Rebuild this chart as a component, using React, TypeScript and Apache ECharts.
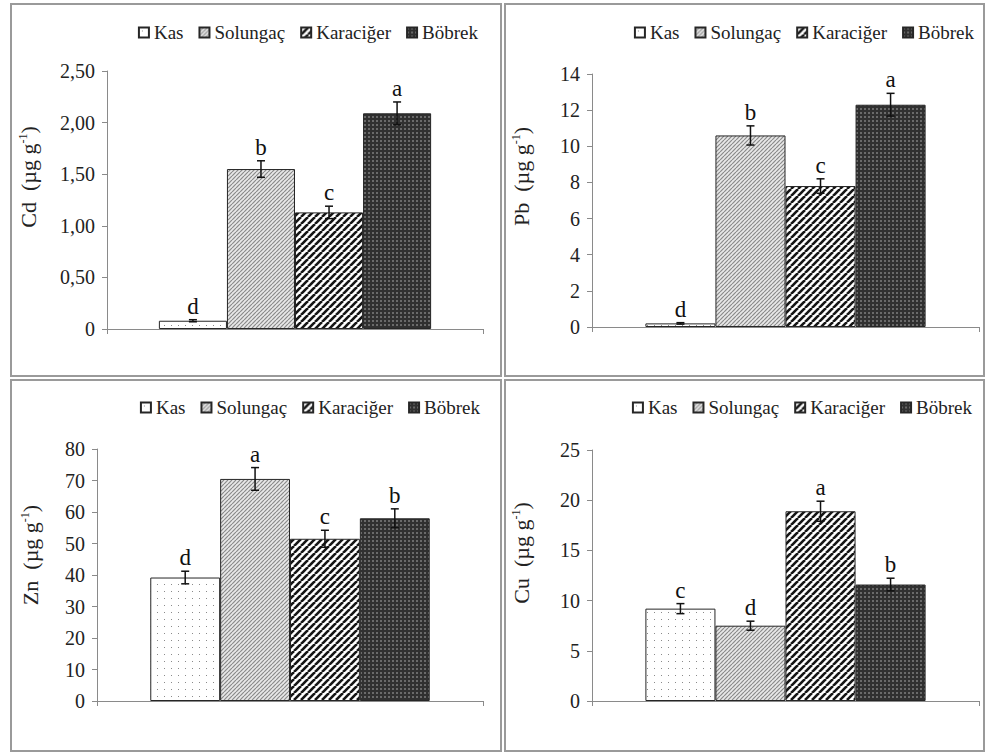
import React, { useEffect, useRef } from 'react';
import * as echarts from 'echarts';

const tissues = ['Kas', 'Solungaç', 'Karaciğer', 'Böbrek'];

const cdValues = [0.08, 1.55, 1.13, 2.09];
const cdErrors = [0.01, 0.08, 0.06, 0.11];
const cdLetters = ['d', 'b', 'c', 'a'];
const cdTicks = ['0', '0,50', '1,00', '1,50', '2,00', '2,50'];

const pbValues = [0.2, 10.6, 7.8, 12.3];
const pbErrors = [0.04, 0.53, 0.4, 0.63];
const pbLetters = ['d', 'b', 'c', 'a'];
const pbTicks = ['0', '2', '4', '6', '8', '10', '12', '14'];

const znValues = [39.2, 70.5, 51.5, 58.0];
const znErrors = [2.0, 3.6, 2.7, 3.0];
const znLetters = ['d', 'a', 'c', 'b'];
const znTicks = ['0', '10', '20', '30', '40', '50', '60', '70', '80'];

const cuValues = [9.2, 7.5, 18.9, 11.6];
const cuErrors = [0.5, 0.45, 1.0, 0.63];
const cuLetters = ['c', 'd', 'a', 'b'];
const cuTicks = ['0', '5', '10', '15', '20', '25'];

const FONT = 'Liberation Serif';
const BAR_FRAC = 0.181;

function makePattern(kind: string) {
  const size = kind === 'kas' ? 7 : kind === 'kar' ? 7 : 4;
  const c = document.createElement('canvas');
  c.width = size;
  c.height = size;
  const ctx = c.getContext('2d')!;
  if (kind === 'kas') {
    ctx.fillStyle = '#ffffff';
    ctx.fillRect(0, 0, size, size);
    ctx.fillStyle = '#8a8a8a';
    ctx.fillRect(3, 3, 1, 1);
  } else if (kind === 'sol') {
    ctx.fillStyle = '#e8e8e8';
    ctx.fillRect(0, 0, size, size);
    ctx.strokeStyle = '#8a8a8a';
    ctx.lineWidth = 1.2;
    for (const k of [-size, 0, size]) {
      ctx.beginPath();
      ctx.moveTo(k, size);
      ctx.lineTo(k + size, 0);
      ctx.stroke();
    }
  } else if (kind === 'kar') {
    ctx.fillStyle = '#ffffff';
    ctx.fillRect(0, 0, size, size);
    ctx.strokeStyle = '#151515';
    ctx.lineWidth = 2.6;
    for (const k of [-size, 0, size]) {
      ctx.beginPath();
      ctx.moveTo(k, size);
      ctx.lineTo(k + size, 0);
      ctx.stroke();
    }
  } else {
    ctx.fillStyle = '#303030';
    ctx.fillRect(0, 0, size, size);
    ctx.fillStyle = '#6a6a6a';
    ctx.fillRect(0, 0, 2, 2);
  }
  return { image: c.toDataURL(), repeat: 'repeat', imageWidth: size, imageHeight: size };
}

type Panel = {
  values: number[];
  errors: number[];
  letters: string[];
  ticks: string[];
  max: number;
  interval: number;
  title: string;
  grid: { left: number; top: number; width: number; height: number };
  legend: { right: number; top: number };
  titleShift: number;
  nameGap: number;
};

const panels: Panel[] = [
  { values: cdValues, errors: cdErrors, letters: cdLetters, ticks: cdTicks, max: 2.5, interval: 0.5, title: 'Cd', grid: { left: 107, top: 71, width: 376, height: 258 }, legend: { right: 504, top: 18 }, titleShift: 46, nameGap: 68 },
  { values: pbValues, errors: pbErrors, letters: pbLetters, ticks: pbTicks, max: 14, interval: 2, title: 'Pb', grid: { left: 592, top: 74, width: 387, height: 253 }, legend: { right: 8, top: 18 }, titleShift: 48, nameGap: 60 },
  { values: znValues, errors: znErrors, letters: znLetters, ticks: znTicks, max: 80, interval: 10, title: 'Zn', grid: { left: 97, top: 449, width: 386, height: 252 }, legend: { right: 502, top: 393 }, titleShift: 40, nameGap: 56 },
  { values: cuValues, errors: cuErrors, letters: cuLetters, ticks: cuTicks, max: 25, interval: 5, title: 'Cu', grid: { left: 592, top: 450, width: 387, height: 251 }, legend: { right: 10, top: 393 }, titleShift: 45, nameGap: 60 },
];

export default function App() {
  const ref = useRef<HTMLDivElement>(null);
  useEffect(() => {
    if (!ref.current) return;
    const chart = echarts.init(ref.current, null, { renderer: 'svg' });
    const patterns = [makePattern('kas'), makePattern('sol'), makePattern('kar'), makePattern('bob')];

    const grids: any[] = [];
    const xAxes: any[] = [];
    const yAxes: any[] = [];
    const legends: any[] = [];
    const series: any[] = [];

    panels.forEach((p, pi) => {
      grids.push({ ...p.grid });
      xAxes.push({
        type: 'category',
        gridIndex: pi,
        data: [''],
        axisLine: { lineStyle: { color: '#8a8a8a', width: 1 } },
        axisTick: { show: true, length: 5, lineStyle: { color: '#8a8a8a' } },
        axisLabel: { show: false },
      });
      yAxes.push({
        type: 'value',
        gridIndex: pi,
        min: 0,
        max: p.max,
        interval: p.interval,
        splitLine: { show: false },
        axisLine: { show: true, lineStyle: { color: '#8a8a8a', width: 1 } },
        axisTick: { show: true, length: 5, lineStyle: { color: '#8a8a8a' } },
        axisLabel: {
          fontFamily: FONT,
          fontSize: 20,
          color: '#222',
          margin: 12,
          formatter: (_v: number, idx: number) => p.ticks[idx],
        },
        name: p.title + '  (µg g{sup|-1})',
        nameLocation: 'middle',
        nameRotate: 90,
        nameGap: p.nameGap,
        nameTextStyle: {
          fontFamily: FONT,
          fontSize: 22,
          color: '#222',
          padding: [0, 0, 0, p.titleShift],
          rich: {
            sup: { fontFamily: FONT, fontSize: 12, color: '#222', verticalAlign: 'top' },
          },
        },
      });
      legends.push({
        data: tissues,
        right: p.legend.right,
        top: p.legend.top,
        itemGap: 15,
        itemWidth: 10,
        itemHeight: 10,
        icon: 'rect',
        selectedMode: false,
        textStyle: { fontFamily: FONT, fontSize: 19, color: '#222' },
      });
      tissues.forEach((t, ti) => {
        series.push({
          type: 'bar',
          name: t,
          xAxisIndex: pi,
          yAxisIndex: pi,
          barWidth: (BAR_FRAC * 100).toFixed(1) + '%',
          barGap: '0%',
          data: [p.values[ti]],
          itemStyle: { color: patterns[ti], borderColor: '#262626', borderWidth: 1 },
        });
      });
      series.push({
        type: 'custom',
        xAxisIndex: pi,
        yAxisIndex: pi,
        z: 10,
        silent: true,
        encode: { x: 0, y: 1 },
        data: p.values.map((v, i) => [0, v, p.errors[i], i]),
        renderItem: (params: any, api: any) => {
          const i = api.value(3);
          const v = api.value(1);
          const e = api.value(2);
          const center = api.coord([0, v]);
          const band = api.size([1, 0])[0];
          const bw = band * BAR_FRAC;
          const x = center[0] + (i - 1.5) * bw;
          const yTop = api.coord([0, v + e])[1];
          const yBot = api.coord([0, Math.max(0, v - e)])[1];
          const cap = 4;
          const ls = { stroke: '#111', lineWidth: 1.5 };
          return {
            type: 'group',
            children: [
              { type: 'line', shape: { x1: x, y1: yTop, x2: x, y2: yBot }, style: ls },
              { type: 'line', shape: { x1: x - cap, y1: yTop, x2: x + cap, y2: yTop }, style: ls },
              { type: 'line', shape: { x1: x - cap, y1: yBot, x2: x + cap, y2: yBot }, style: ls },
              {
                type: 'text',
                x,
                y: yTop - 2,
                style: {
                  text: p.letters[params.dataIndex],
                  align: 'center',
                  verticalAlign: 'bottom',
                  fontFamily: FONT,
                  fontSize: 23,
                  fill: '#111',
                },
              },
            ],
          };
        },
      });
    });

    const border = { stroke: '#9a9a9a', lineWidth: 2, fill: 'none' };
    chart.setOption({
      animation: false,
      backgroundColor: '#ffffff',
      textStyle: { fontFamily: FONT },
      grid: grids,
      xAxis: xAxes,
      yAxis: yAxes,
      legend: legends,
      series,
      graphic: [
        { type: 'rect', shape: { x: 11, y: 4, width: 490, height: 372 }, style: border, silent: true },
        { type: 'rect', shape: { x: 505, y: 4, width: 479, height: 372 }, style: border, silent: true },
        { type: 'rect', shape: { x: 11, y: 380, width: 490, height: 371 }, style: border, silent: true },
        { type: 'rect', shape: { x: 505, y: 380, width: 479, height: 371 }, style: border, silent: true },
      ],
    });
    return () => chart.dispose();
  }, []);
  return (
    <div
      ref={ref}
      style={{ position: 'absolute', left: 0, top: 0, width: 987, height: 753 }}
    />
  );
}
